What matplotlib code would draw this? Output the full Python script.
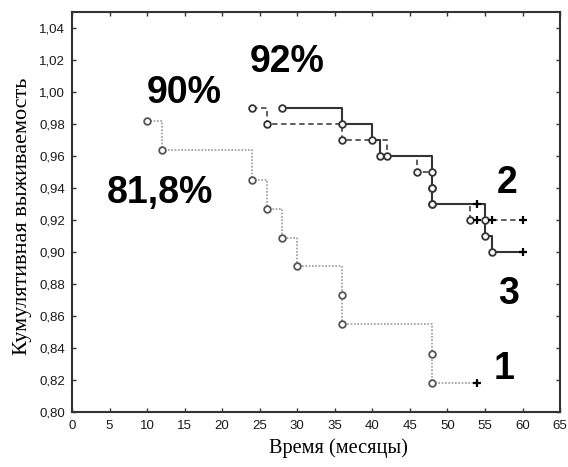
import matplotlib
matplotlib.use("Agg")
import matplotlib.pyplot as plt

# group 1 (dotted)
t1 = [10, 12, 24, 26, 28, 30, 36, 36, 48, 48]
s1 = [0.982, 0.964, 0.945, 0.927, 0.909, 0.891, 0.873, 0.855, 0.836, 0.818]
c1_t = [54]
c1_s = [0.818]

# group 2 (dashed)
t2 = [24, 26, 36, 42, 46, 48, 48, 53]
s2 = [0.990, 0.980, 0.970, 0.960, 0.950, 0.940, 0.930, 0.920]
c2_t = [54, 56, 60]
c2_s = [0.920, 0.920, 0.920]

# group 3 (solid)
t3 = [28, 36, 40, 41, 48, 48, 48, 55, 55, 56]
s3 = [0.990, 0.980, 0.970, 0.960, 0.950, 0.940, 0.930, 0.920, 0.910, 0.900]
c3_t = [54, 60]
c3_s = [0.930, 0.900]

labels = ["81,8%", "92%", "90%", "1", "2", "3"]
label_x = [11.7, 28.6, 15.0, 57.5, 58.0, 58.1]
label_y = [0.937, 1.019, 0.9995, 0.827, 0.943, 0.874]

xticks = list(range(0, 70, 5))
yticks = [0.80, 0.82, 0.84, 0.86, 0.88, 0.90, 0.92, 0.94, 0.96, 0.98, 1.00, 1.02, 1.04]


def km_curve(ax, t, s, ct, cs, color, ls, lw, mec):
    # line runs through the events and on to the last censored time
    xs = list(t) + list(ct)
    ys = list(s) + list(cs)
    order = sorted(range(len(xs)), key=lambda i: (xs[i], -ys[i]))
    xs = [xs[i] for i in order]
    ys = [ys[i] for i in order]
    ax.plot(xs, ys, drawstyle="steps-post", color=color, ls=ls, lw=lw, zorder=2)
    ax.plot(t, s, "o", ms=4.8, mfc="white", mec=mec, mew=1.3, ls="none", zorder=3)
    ax.plot(ct, cs, "+", ms=6, color="black", mew=1.6, ls="none", zorder=4)


def main():
    fig = plt.figure(figsize=(5.68, 4.67), dpi=100)
    ax = fig.add_axes([0.1268, 0.1178, 0.8592, 0.8565])

    km_curve(ax, t1, s1, c1_t, c1_s, "#9a9a9a", (0, (1, 1)), 1.2, "#555555")
    km_curve(ax, t2, s2, c2_t, c2_s, "#505050", (0, (3, 2)), 1.3, "#333333")
    km_curve(ax, t3, s3, c3_t, c3_s, "#333333", "-", 1.5, "#333333")

    for txt, x, y in zip(labels, label_x, label_y):
        ax.text(x, y, txt, fontsize=27, fontweight="bold", family="Liberation Sans",
                ha="center", va="center")

    ax.set_xlim(0, 65)
    ax.set_ylim(0.80, 1.05)
    ax.set_xticks(xticks)
    ax.set_yticks(yticks)
    ax.set_xticklabels([str(v) for v in xticks], family="Liberation Sans", fontsize=9.5,
                       color="#1a1a1a")
    ax.set_yticklabels([("%.2f" % v).replace(".", ",") for v in yticks],
                       family="Liberation Sans", fontsize=9.5, color="#1a1a1a")
    ax.tick_params(direction="in", length=3, width=1, color="#333333",
                   top=True, right=True)
    ax.tick_params(axis="y", pad=5)
    ax.tick_params(axis="x", pad=6)
    for sp in ax.spines.values():
        sp.set_linewidth(1.5)
        sp.set_color("#333333")

    ax.set_xlabel("Время (месяцы)", family="Liberation Serif", fontsize=14.7)
    ax.xaxis.set_label_coords(0.545, -0.065)
    ax.set_ylabel("Кумулятивная выживаемость", family="Liberation Serif", fontsize=16)
    ax.yaxis.set_label_coords(-0.082, 0.49)

    fig.savefig("out.png", dpi=100)


if __name__ == "__main__":
    main()
